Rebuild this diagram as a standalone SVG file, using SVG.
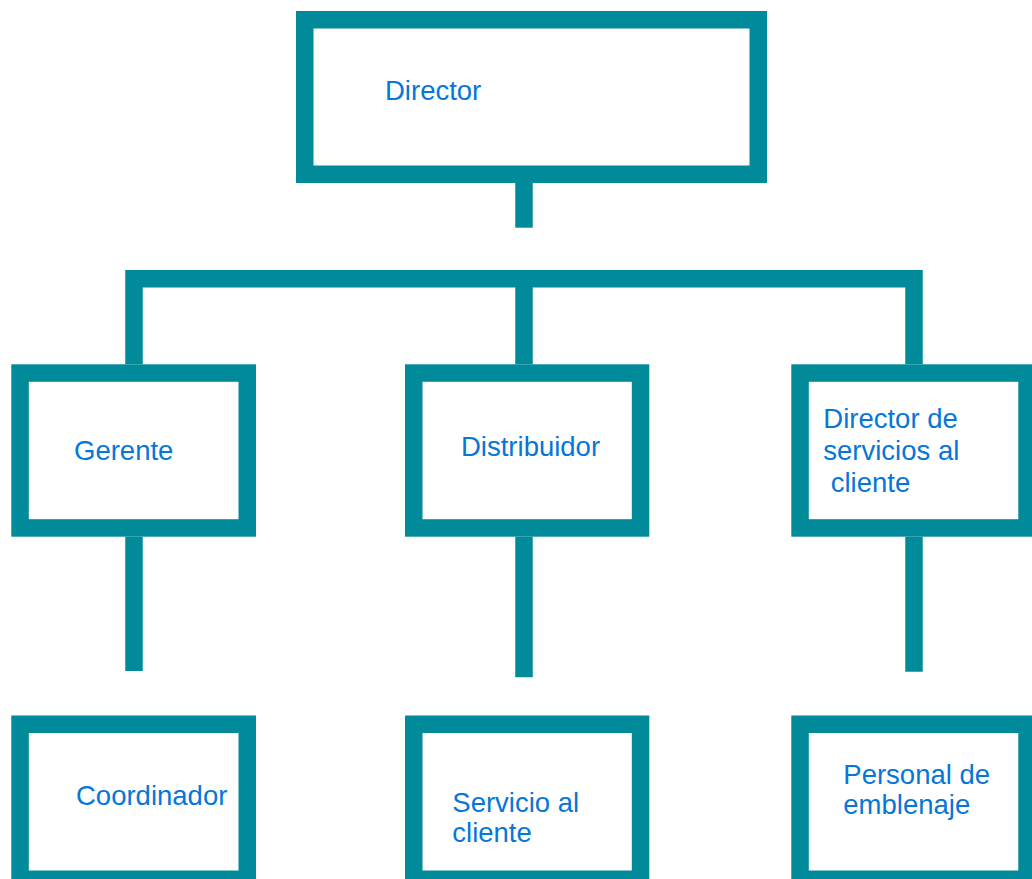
<svg xmlns="http://www.w3.org/2000/svg" width="1032" height="879" viewBox="0 0 1032 879">
<style>
.box{fill:#ffffff;stroke:#018A9A;stroke-width:17.5}
.con{fill:none;stroke:#018A9A;stroke-width:17.5;stroke-linecap:butt;stroke-linejoin:miter}
.lbl{font-family:"Liberation Sans",Arial,sans-serif;font-size:27.5px;fill:#0676D8}
</style>
<rect width="1032" height="879" fill="#ffffff"/>
<g id="connectors">
<path class="con" d="M524 183 V227.7"/>
<path class="con" d="M134 364.3 V278.7 H914 V364.3"/>
<path class="con" d="M524 278.7 V364.3"/>
<path class="con" d="M134 536.7 V671"/>
<path class="con" d="M524 536.7 V677.3"/>
<path class="con" d="M914 536.7 V671.7"/>
</g>
<g id="node-director">
<rect class="box" x="304.75" y="19.75" width="453.5" height="154.5"/>
<text class="lbl" x="385" y="100">Director</text>
</g>
<g id="node-gerente">
<rect class="box" x="20.05" y="373.05" width="227.2" height="154.9"/>
<text class="lbl" x="74" y="460">Gerente</text>
</g>
<g id="node-distribuidor">
<rect class="box" x="413.75" y="373.05" width="226.8" height="154.9"/>
<text class="lbl" x="461" y="456">Distribuidor</text>
</g>
<g id="node-director-servicios">
<rect class="box" x="800.05" y="373.05" width="227" height="154.9"/>
<text class="lbl" x="823.3" y="428.3">Director de</text>
<text class="lbl" x="823.3" y="460">servicios al</text>
<text class="lbl" x="830.7" y="491.7">cliente</text>
</g>
<g id="node-coordinador">
<rect class="box" x="20.05" y="724.25" width="227.2" height="155"/>
<text class="lbl" x="76" y="805">Coordinador</text>
</g>
<g id="node-servicio-cliente">
<rect class="box" x="413.75" y="724.25" width="226.8" height="155"/>
<text class="lbl" x="452.3" y="811.7">Servicio al</text>
<text class="lbl" x="452.3" y="842.3">cliente</text>
</g>
<g id="node-personal">
<rect class="box" x="800.05" y="724.25" width="227" height="155"/>
<text class="lbl" x="843.3" y="784">Personal de</text>
<text class="lbl" x="843.3" y="814">emblenaje</text>
</g>
</svg>
